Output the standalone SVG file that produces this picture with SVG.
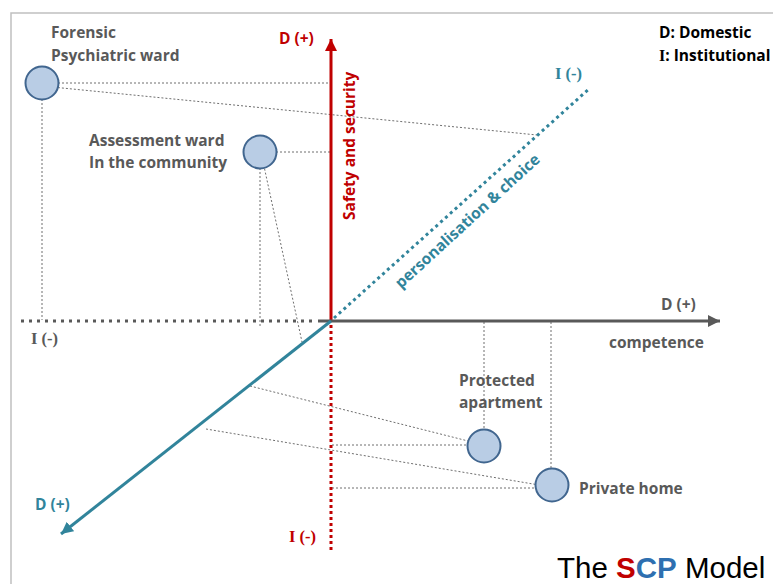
<svg xmlns="http://www.w3.org/2000/svg" width="773" height="584" viewBox="0 0 773 584">
<style>
.lbl{font-family:"Open Sans","Liberation Sans",sans-serif;font-weight:bold;font-size:15.5px;fill:#595959}
.ser{font-family:"Liberation Serif",serif;font-weight:bold;font-size:16.5px}
.red{fill:#c00000}
.teal{fill:#31849b}
.gray{fill:#595959}
.node{fill:#b9cde5;stroke:#41668f;stroke-width:2}
.proj{fill:none;stroke:#6f6f6f;stroke-width:1;stroke-dasharray:2 2}
</style>
<defs>
<marker id="ar" markerUnits="userSpaceOnUse" markerWidth="14" markerHeight="12" refX="12" refY="6" orient="auto"><path d="M0,0 L12,6 L0,12 Z" fill="#c00000"/></marker>
<marker id="ag" markerUnits="userSpaceOnUse" markerWidth="14" markerHeight="12" refX="12" refY="6" orient="auto"><path d="M0,0 L12,6 L0,12 Z" fill="#595959"/></marker>
<marker id="at" markerUnits="userSpaceOnUse" markerWidth="14" markerHeight="12" refX="12" refY="6" orient="auto"><path d="M0,0 L12,6 L0,12 Z" fill="#31849b"/></marker>
</defs>
<rect width="773" height="584" fill="#fff"/>
<path d="M11,584 V13 H773" fill="none" stroke="#c0c0c0" stroke-width="1.5"/>
<g id="connectors">
<path class="proj" d="M42,83 H331 M42,83 V320 M42,86 L537,135"/>
<path class="proj" d="M260,152 H331 M260,152 V327 M262,157 L302,342"/>
<path class="proj" d="M484,322 V445 M332,445 H484 M250,386 L484,445"/>
<path class="proj" d="M551,322 V487 M332,488 H551 M206,429 L551,487"/>
<line x1="331" y1="321" x2="331" y2="39" stroke="#c00000" stroke-width="3" marker-end="url(#ar)"/>
<line x1="331" y1="325" x2="331" y2="552" stroke="#c00000" stroke-width="3" stroke-dasharray="3 3"/>
<line x1="318" y1="321" x2="720" y2="321" stroke="#595959" stroke-width="3" marker-end="url(#ag)"/>
<line x1="21" y1="321" x2="313" y2="321" stroke="#595959" stroke-width="3" stroke-dasharray="3 5"/>
<line x1="331" y1="321" x2="61" y2="534" stroke="#31849b" stroke-width="3" marker-end="url(#at)"/>
<line x1="334" y1="318" x2="590" y2="88" stroke="#31849b" stroke-width="3" stroke-dasharray="3 3.5"/>
</g>
<g id="forensic"><circle class="node" cx="42" cy="83" r="16.5"/><text class="lbl" x="51" y="38">Forensic</text><text class="lbl" x="51" y="61">Psychiatric ward</text></g>
<g id="assessment"><circle class="node" cx="260" cy="152" r="16.5"/><text class="lbl" x="89" y="146">Assessment ward</text><text class="lbl" x="89" y="168">In the community</text></g>
<g id="protected"><circle class="node" cx="484" cy="446" r="16.5"/><text class="lbl" x="459" y="386">Protected</text><text class="lbl" x="459" y="408">apartment</text></g>
<g id="private"><circle class="node" cx="552" cy="485" r="16.5"/><text class="lbl" x="579" y="494">Private home</text></g>
<g id="labels">
<text class="lbl red" x="279" y="44">D (+)</text>
<text class="lbl red" transform="translate(355,220) rotate(-90)">Safety and security</text>
<text class="ser teal" x="555" y="79">I (-)</text>
<text class="lbl teal" transform="translate(401,289) rotate(-42.5)">personalisation &amp; choice</text>
<text class="lbl gray" x="661" y="310">D (+)</text>
<text class="lbl gray" x="609" y="348">competence</text>
<text class="ser gray" x="31" y="344">I (-)</text>
<text class="lbl teal" x="35" y="510">D (+)</text>
<text class="ser red" x="289" y="542">I (-)</text>
<text class="lbl" x="659" y="38" style="fill:#000">D: Domestic</text>
<text class="lbl" x="659" y="61" style="fill:#000"><tspan class="ser" style="font-size:16px">I</tspan>: Institutional</text>
<text x="557" y="578" font-family="Liberation Sans, Arial, sans-serif" font-size="29.5" fill="#000">The <tspan fill="#c00000" font-weight="bold">S</tspan><tspan fill="#2e6fb0" font-weight="bold">CP</tspan> Model</text>
</g>
</svg>
